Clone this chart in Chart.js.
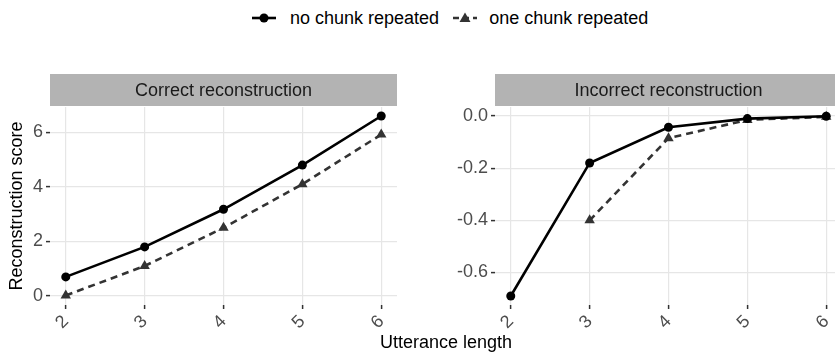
<!DOCTYPE html>
<html>
<head>
<meta charset="utf-8">
<script src="https://cdn.jsdelivr.net/npm/chart.js@4/dist/chart.umd.min.js"></script>
<style>
  html, body { margin: 0; padding: 0; background: #fff; overflow: hidden; }
  body { width: 835px; height: 355px; position: relative; font-family: "Liberation Sans", Arial, sans-serif; }
  canvas { position: absolute; left: 0; top: 0; }
  .legend { position: absolute; top: 7px; left: 251px; font-size: 18px; color: #000; white-space: nowrap; }
  .legend span { display: inline-block; vertical-align: middle; }
  .legend svg { vertical-align: middle; }
  .xtitle { position: absolute; top: 332px; left: 0; width: 892px; text-align: center; font-size: 18px; color: #000; }
</style>
</head>
<body>
<div class="legend">
  <svg width="26" height="20"><line x1="1" y1="10" x2="25" y2="10" stroke="#000" stroke-width="2.6"/><circle cx="13" cy="10" r="4.5" fill="#000"/></svg>
  <span style="margin-left:8px">no chunk repeated</span>
  <svg width="26" height="20" style="margin-left:8px"><line x1="1" y1="10" x2="25" y2="10" stroke="#333" stroke-width="2.6" stroke-dasharray="6,4"/><polygon points="13,4.5 18.5,14 7.5,14" fill="#333"/></svg>
  <span style="margin-left:6px">one chunk repeated</span>
</div>
<canvas id="leftChart" width="860" height="355"></canvas>
<canvas id="rightChart" width="860" height="355"></canvas>
<div class="xtitle">Utterance length</div>

<script>
// ── Data ────────────────────────────────────────────────────
const lengths        = [2, 3, 4, 5, 6];
const correctNone    = [0.70, 1.80, 3.18, 4.80, 6.60];
const correctOne     = [0.02, 1.10, 2.50, 4.10, 5.92];
const incorrectNone  = [-0.69, -0.18, -0.043, -0.010, -0.001];
const incorrectOne   = [null, -0.40, -0.085, -0.015, -0.003];
const leftTicks      = [0, 2, 4, 6];
const rightTicks     = [-0.6, -0.4, -0.2, 0.0];

const FONT = "'Liberation Sans', Arial, sans-serif";
const FS = 18;

function pts(ys) {
    return lengths.map((x, i) => ({ x: x, y: ys[i] }));
}

// facet strip drawn above the chart area
const stripPlugin = {
    id: 'strip',
    beforeDraw(chart, args, opts) {
        const { ctx, chartArea } = chart;
        ctx.save();
        ctx.fillStyle = '#b3b3b3';
        ctx.fillRect(chartArea.left, chartArea.top - 33, chartArea.right - chartArea.left, 32);
        ctx.fillStyle = '#1a1a1a';
        ctx.font = FS + 'px ' + FONT;
        ctx.textAlign = 'center';
        ctx.textBaseline = 'middle';
        ctx.fillText(opts.text, (chartArea.left + chartArea.right) / 2, chartArea.top - 16);
        ctx.restore();
    }
};

function makeChart(id, none, one, yTicks, yMin, yMax, pad, fmt, yTitle, strip) {
    return new Chart(document.getElementById(id), {
        type: 'line',
        data: {
            datasets: [
                {
                    label: 'no chunk repeated',
                    data: pts(none),
                    borderColor: '#000',
                    backgroundColor: '#000',
                    borderWidth: 2.6,
                    pointStyle: 'circle',
                    pointRadius: 4.5,
                    pointBorderWidth: 0,
                    tension: 0
                },
                {
                    label: 'one chunk repeated',
                    data: pts(one),
                    borderColor: '#333',
                    backgroundColor: '#333',
                    borderWidth: 2.6,
                    borderDash: [7, 5],
                    pointStyle: 'triangle',
                    pointRadius: 6,
                    pointBorderWidth: 0,
                    tension: 0,
                    spanGaps: false
                }
            ]
        },
        options: {
            responsive: false,
            animation: false,
            layout: { padding: pad },
            plugins: {
                legend: { display: false },
                tooltip: { enabled: false },
                strip: { text: strip }
            },
            scales: {
                x: {
                    type: 'linear',
                    min: 1.8,
                    max: 6.2,
                    afterBuildTicks: s => { s.ticks = lengths.map(v => ({ value: v })); },
                    afterFit: s => { s.height = 50; },
                    grid: { color: '#e6e6e6', lineWidth: 1.2, tickColor: '#333', tickWidth: 1.5, tickLength: 4 },
                    border: { display: false },
                    ticks: {
                        color: '#4d4d4d',
                        font: { family: FONT, size: FS },
                        minRotation: 45,
                        maxRotation: 45,
                        padding: 2,
                        autoSkip: false
                    }
                },
                y: {
                    min: yMin,
                    max: yMax,
                    afterBuildTicks: s => { s.ticks = yTicks.map(v => ({ value: v })); },
                    afterFit: s => { s.width = 50; },
                    grid: { color: '#e6e6e6', lineWidth: 1.2, tickColor: '#333', tickWidth: 1.5, tickLength: 4 },
                    border: { display: false },
                    ticks: {
                        color: '#4d4d4d',
                        font: { family: FONT, size: FS },
                        padding: 3,
                        callback: fmt
                    },
                    title: {
                        display: !!yTitle,
                        text: yTitle,
                        color: '#000',
                        font: { family: FONT, size: FS },
                        padding: { top: 6, bottom: 0 }
                    }
                }
            }
        },
        plugins: [stripPlugin]
    });
}

makeChart('leftChart', correctNone, correctOne, leftTicks, -0.33, 6.93,
    { left: 0, right: 463, top: 107, bottom: 0 },
    v => String(v), 'Reconstruction score', 'Correct reconstruction');

makeChart('rightChart', incorrectNone, incorrectOne, rightTicks, -0.7245, 0.0345,
    { left: 445, right: 18, top: 107, bottom: 0 },
    v => Number(v).toFixed(1), '', 'Incorrect reconstruction');
</script>
</body>
</html>
